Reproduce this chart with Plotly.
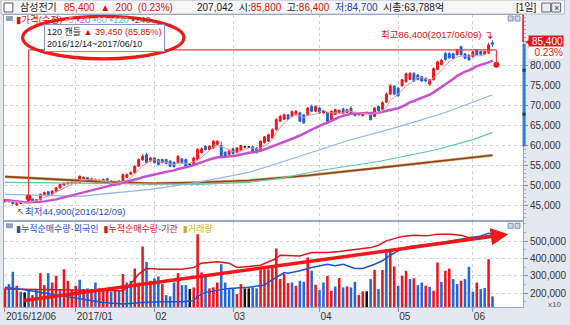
import plotly.graph_objects as go
import pandas as pd

# ---------------- data ----------------
month_days = {
    "2016-12": [6, 7, 8, 9, 12, 13, 14, 15, 16, 19, 20, 21, 22, 23, 26, 27, 28, 29],
    "2017-01": [2, 3, 4, 5, 6, 9, 10, 11, 12, 13, 16, 17, 18, 19, 20, 23, 24, 25, 26, 31],
    "2017-02": [1, 2, 3, 6, 7, 8, 9, 10, 13, 14, 15, 16, 17, 20, 21, 22, 23, 24, 27, 28],
    "2017-03": [2, 3, 6, 7, 8, 9, 10, 13, 14, 15, 16, 17, 20, 21, 22, 23, 24, 27, 28, 29, 30, 31],
    "2017-04": [3, 4, 5, 6, 7, 10, 11, 12, 13, 14, 17, 18, 19, 20, 21, 24, 25, 26, 27, 28],
    "2017-05": [2, 4, 8, 10, 11, 12, 15, 16, 17, 18, 19, 22, 23, 24, 25, 26, 29, 30, 31],
    "2017-06": [1, 2, 5, 7, 8, 9],
}
tick_labels = ["2016/12/06", "2017/01", "02", "03", "04", "05", "06"]

opens = [45900, 46300, 45900, 45100, 45600, 45950, 45950, 46600, 46100, 46400,
         47700, 48400, 47800, 48600, 49400, 50100, 50400, 50600, 50600, 50700,
         51700, 51900, 51300, 51500, 51300, 50900, 51700, 51100, 50700, 50300,
         51100, 52000, 52800, 53200, 54800, 56400, 57700, 56100, 56900, 56500,
         56500, 56500, 56100, 55800, 55700, 56700, 56500, 55300, 55300, 56500,
         58200, 59800, 59000, 59400, 60300, 60000, 58300, 57700, 59200, 58200,
         58800, 59700, 59700, 59700, 59400, 58600, 60700, 61100, 61900, 64000,
         66100, 66600, 67700, 67300, 67800, 68200, 67700, 67700, 69800, 68600,
         69400, 68200, 68300, 66400, 67800, 68200, 69200, 68300, 69400, 68300,
         67700, 67500, 68300, 68200, 67300, 69800, 69100, 70900, 72900, 74900,
         74400, 75000, 76000, 76600, 78100, 77700, 77300, 76900, 75400, 76500,
         79100, 80300, 83100, 83100, 83000, 82800, 84800, 83000, 82700, 82300,
         84000, 83600, 82900, 83200, 85800]
highs = [46600, 46500, 46000, 45700, 45800, 46100, 47000, 46700, 46600, 48000,
         48500, 48600, 48800, 49600, 50400, 50700, 50900, 51000, 51100, 52500,
         52300, 52100, 51900, 51700, 51500, 51700, 51900, 51300, 50900, 51300,
         53000, 53000, 53500, 55100, 56800, 57800, 58200, 57200, 57100, 56700,
         56700, 56700, 56300, 56000, 57600, 56900, 56700, 55500, 57200, 59300,
         59500, 60100, 60100, 61400, 61300, 61000, 58600, 58900, 59400, 59600,
         60200, 59900, 59900, 59900, 59600, 61300, 62400, 63000, 64300, 66900,
         67700, 68000, 67900, 68800, 68900, 68500, 67900, 69700, 70300, 70100,
         69600, 68900, 68500, 68800, 69300, 69100, 69500, 69200, 69900, 68500,
         68300, 68300, 68500, 68400, 69600, 70000, 71100, 73300, 75400, 75100,
         74700, 76700, 78300, 78400, 78400, 78000, 77500, 77100, 76700, 79600,
         81300, 81700, 83500, 83400, 83300, 84300, 85000, 83200, 82900, 83700,
         84200, 83800, 83800, 85800, 86400]
lows = [45700, 45700, 45200, 44900, 45400, 45700, 45900, 45900, 45900, 46300,
        47500, 47500, 47700, 48400, 49200, 49900, 50200, 50300, 50300, 50500,
        51500, 50900, 51100, 50300, 50300, 50700, 50500, 49800, 49800, 50100,
        50900, 51800, 52600, 53000, 54600, 56200, 55500, 55900, 55500, 55000,
        55500, 55300, 54600, 54500, 55500, 55500, 54600, 55000, 55100, 56300,
        58000, 58800, 58800, 59200, 60100, 57000, 57000, 57500, 57800, 58000,
        58600, 59400, 59400, 58000, 58000, 58400, 60500, 60900, 61700, 63800,
        65900, 66400, 66400, 67100, 67600, 65900, 65400, 67500, 68400, 68400,
        68000, 68000, 65900, 66200, 67600, 68000, 67800, 68100, 68000, 67300,
        67500, 67300, 68100, 66300, 67100, 68500, 68900, 70700, 72700, 72600,
        72200, 74800, 75800, 76400, 75900, 76300, 75900, 75900, 75000, 76300,
        78900, 80100, 81300, 81700, 81700, 82600, 82600, 81700, 81300, 82100,
        82600, 82600, 82700, 83000, 84700]
closes = [46400, 45900, 45400, 45500, 45600, 45950, 46700, 46100, 46400, 47800,
          48200, 47700, 48600, 49400, 50200, 50500, 50700, 50800, 50900, 52300,
          52000, 51100, 51700, 50500, 50500, 51500, 50700, 50000, 50000, 51100,
          52700, 52700, 53300, 54800, 56500, 57300, 55700, 56900, 55700, 55200,
          55700, 55500, 54800, 54700, 57300, 55700, 54800, 55300, 56900, 59000,
          59200, 59000, 59800, 61100, 61100, 57300, 57300, 58600, 58000, 59400,
          60000, 59700, 59700, 58200, 58200, 61100, 62200, 62700, 64000, 66500,
          67300, 67700, 66600, 68500, 68600, 66100, 65700, 69400, 68600, 69800,
          68200, 68600, 66100, 68600, 69000, 68800, 68000, 69000, 68200, 67500,
          68100, 68100, 68300, 66500, 69400, 68700, 70800, 72900, 75000, 72900,
          72500, 76500, 78000, 78100, 76200, 76600, 76200, 76200, 76500, 79300,
          81000, 81400, 81600, 82000, 81900, 84100, 82800, 81900, 81500, 83500,
          82800, 82900, 83600, 85200, 85400]
# closes of the 19 sessions before the first visible one (for the 5/20-day averages)
prior_closes = [48500, 48000, 47800, 47500, 47000, 46800, 46500, 46300, 46000, 45800,
                45500, 45300, 45000, 45200, 45400, 45600, 45800, 46000, 46200]

# longer moving averages (session index, price)
ma60_idx = [0, 19, 29, 37, 49, 62, 74, 87, 100, 112, 124]
ma60 = [47750, 47250, 48250, 49000, 50750, 53250, 57000, 61200, 64700, 68300, 72750]
ma120_idx = [0, 19, 37, 49, 62, 70, 80, 95, 110, 119, 124]
ma120 = [50750, 50500, 50250, 50250, 50750, 51750, 53750, 56000, 59000, 61500, 63300]
ma240_idx = [0, 25, 37, 49, 62, 72, 77, 95, 112, 124]
ma240 = [52200, 50900, 50500, 50750, 51250, 52000, 52500, 54400, 56300, 57550]

# volume (x10, thousands) and day direction (r up / b down / k flat)
volume = [227, 252, 323, 242, 208, 204, 213, 188, 219, 315, 246, 315, 261, 300, 223, 338, 271, 219,
          242, 277, 223, 227, 223, 261, 227, 213, 217, 208, 213, 213, 310, 261, 271, 342, 261, 469,
          381, 271, 285, 296, 252, 188, 181, 261, 315, 246, 246, 223, 233, 540, 319, 304, 227, 233,
          261, 367, 261, 223, 227, 194, 252, 227, 227, 233, 227, 334, 338, 338, 348, 458, 281, 310,
          258, 261, 242, 271, 265, 406, 329, 248, 217, 261, 300, 213, 238, 287, 233, 238, 233, 265,
          190, 210, 210, 281, 334, 223, 333, 454, 444, 354, 242, 300, 329, 281, 285, 246, 261, 242,
          236, 213, 377, 265, 329, 342, 281, 252, 271, 281, 352, 208, 261, 223, 229, 396, 181]
vol_dir = ("rbbrbkbrbr" "rbrrbrrrrb" "rbrbrrrbrb" "rbbrrrbrbb" "rbbbrbbkrr" "rbrrrbbbbr"
           "rkkbbrrrrr" "rr" "rbrbbrbrbb" "rrbrbrbbrr" "kbrbrbrrbr" "rbrbbrbrrb" "rrbbrbbbrb" "brb")

# cumulative net buying (same x10 scale, thousands)
inst_idx = [0, 10, 20, 30, 32, 34, 36, 40, 45, 48, 50, 54, 57, 59, 62, 65, 67, 69, 70, 72,
            75, 78, 82, 85, 88, 91, 93, 95, 97, 99, 101, 104, 107, 110, 113, 116, 118, 120, 122, 124]
inst = [223, 219, 219, 213, 252, 310, 342, 338, 338, 348, 373, 381, 373, 348, 354, 361, 381, 400, 419, 419,
        415, 435, 435, 440, 450, 458, 463, 477, 502, 515, 527, 535, 531, 540, 540, 535, 521, 521, 527, 535]
foreign_idx = [0, 5, 10, 15, 20, 25, 30, 35, 40, 45, 48, 49, 51, 54, 57, 62, 66, 68, 71, 72,
               75, 78, 80, 82, 84, 86, 89, 91, 94, 96, 98, 100, 103, 106, 109, 112, 115, 118, 121, 123, 124]
foreign = [233, 219, 200, 181, 162, 146, 137, 146, 150, 150, 156, 181, 204, 217, 227, 233, 246, 277, 319, 315,
           329, 348, 358, 367, 358, 367, 342, 342, 367, 387, 419, 444, 469, 477, 488, 496, 508, 521, 531, 546, 540]

price_ticks = [45000, 50000, 55000, 60000, 65000, 70000, 75000, 80000]
vol_ticks = [200000, 300000, 400000, 500000]

# ---------------- geometry helpers ----------------
W, H = 570, 325
ML, MR, MT, MB = 3, 42, 15, 17
PW = W - ML - MR
PH = H - MT - MB


def PX(px):
    return (px - ML) / PW


def PY(py):
    return (H - MB - py) / PH


FONT = "Liberation Sans, Noto Sans CJK KR, DejaVu Sans, sans-serif"
RED = "#f0141c"
BLUE = "#1d5fd8"

dates = [f"{m}-{d:02d}" for m, ds in month_days.items() for d in ds]
x = list(range(len(dates)))
month_idx = []
seen = set()
for i, d in enumerate(dates):
    if d[:7] not in seen:
        seen.add(d[:7])
        month_idx.append(i)

allc = pd.Series(prior_closes + closes)
ma5 = allc.rolling(5).mean().iloc[len(prior_closes):].tolist()
ma20 = allc.rolling(20).mean().iloc[len(prior_closes):].tolist()

fig = go.Figure()

# moving averages (main panel)
fig.add_trace(go.Scatter(x=ma240_idx, y=ma240, mode="lines", line=dict(color="#dcb48a", width=3)))
fig.add_trace(go.Scatter(x=ma240_idx, y=ma240, mode="lines", line=dict(color="#8b4513", width=1.6)))
fig.add_trace(go.Scatter(x=ma120_idx, y=ma120, mode="lines", line=dict(color="#5cc8a8", width=1.2)))
fig.add_trace(go.Scatter(x=ma60_idx, y=ma60, mode="lines", line=dict(color="#90b4ea", width=1.2)))
fig.add_trace(go.Scatter(x=x, y=ma20, mode="lines", line=dict(color="#c64fd2", width=2.5)))
fig.add_trace(go.Scatter(x=x, y=ma5, mode="lines", line=dict(color="#f29090", width=1)))


def sub(arr, ids):
    return [arr[i] for i in ids]


up = [i for i in x if closes[i] > opens[i]]
dn = [i for i in x if closes[i] < opens[i]]
flat = [i for i in x if closes[i] == opens[i]]
for ids, col in ((up, RED), (dn, BLUE), (flat, "#111111")):
    st = dict(line=dict(color=col, width=1), fillcolor=col)
    fig.add_trace(go.Candlestick(x=ids, open=sub(opens, ids), high=sub(highs, ids),
                                 low=sub(lows, ids), close=sub(closes, ids),
                                 increasing=st, decreasing=st, whiskerwidth=0,
                                 hoverinfo="skip"))

# measurement markers
fig.add_trace(go.Scatter(x=[6, 125], y=[47000, 80250], mode="markers",
                         marker=dict(color=RED, size=6)))

# lower panel
cmap = {"r": RED, "b": "#2466dc", "k": "#111111"}
fig.add_trace(go.Bar(x=x, y=[v * 1000 for v in volume], marker=dict(color=[cmap[c] for c in vol_dir], line=dict(width=0)),
                     xaxis="x2", yaxis="y2"))
fig.add_trace(go.Scatter(x=inst_idx, y=[v * 1000 for v in inst], mode="lines",
                         line=dict(color="#e0141c", width=1.5), xaxis="x2", yaxis="y2"))
fig.add_trace(go.Scatter(x=foreign_idx, y=[v * 1000 for v in foreign], mode="lines",
                         line=dict(color="#2050d0", width=1.5), xaxis="x2", yaxis="y2"))

grid = dict(showgrid=True, gridcolor="#d2d2d2", griddash="dot", gridwidth=1, zeroline=False,
            showline=True, linecolor="#9aa6c2", linewidth=1, mirror=True, fixedrange=True)

fig.update_layout(
    width=W, height=H, showlegend=False,
    margin=dict(l=ML, r=MR, t=MT, b=MB, pad=0),
    paper_bgcolor="#e4e8f0", plot_bgcolor="white",
    font=dict(family=FONT, size=9, color="#222"),
    bargap=0.35,
    xaxis=dict(domain=[0, 1], anchor="y", range=[-0.25, 131.75], tickvals=month_idx,
               showticklabels=False, ticks="", rangeslider=dict(visible=False), **grid),
    yaxis=dict(domain=[87 / PH, 1], side="right", range=[41250, 92750], tickvals=price_ticks,
               ticktext=[f"{v:,}" for v in price_ticks], ticks="outside", ticklen=4,
               tickcolor="#8090b0", minor=dict(dtick=1000, ticklen=2, tickcolor="#a0acc8", ticks="outside", showgrid=False),
               **grid),
    xaxis2=dict(domain=[0, 1], anchor="y2", matches="x", range=[-0.25, 131.75], tickvals=month_idx,
                ticktext=tick_labels, ticks="outside", ticklen=4, tickcolor="#8090b0",
                ticklabelposition="outside right", tickfont=dict(size=10, color="#333"), **grid),
    yaxis2=dict(domain=[0, 85 / PH], side="right", range=[119234, 609600], tickvals=vol_ticks,
                ticktext=[f"{v:,}" for v in vol_ticks], ticks="outside", ticklen=4, tickcolor="#8090b0",
                minor=dict(dtick=50000, ticklen=2, tickcolor="#a0acc8", ticks="outside", showgrid=False),
                **grid),
)
fig.update_yaxes(tickfont=dict(size=10, color="#333"))

shapes = []
# title bar
shapes.append(dict(type="rect", xref="paper", yref="paper", x0=PX(0), x1=PX(W), y0=PY(14), y1=PY(0),
                   fillcolor="#f7f7f7", line=dict(color="#b4bccc", width=1), layer="below"))
shapes.append(dict(type="rect", xref="paper", yref="paper", x0=PX(3), x1=PX(12), y0=PY(12), y1=PY(3),
                   fillcolor="white", line=dict(color="#555", width=1)))
for bx in (547, 557):
    shapes.append(dict(type="rect", xref="paper", yref="paper", x0=PX(bx), x1=PX(bx + 9), y0=PY(12), y1=PY(3),
                       fillcolor="#e8ecf4", line=dict(color="#667", width=1)))
# small panel icons
for yy in (16, 224):
    shapes.append(dict(type="rect", xref="paper", yref="paper", x0=PX(5), x1=PX(12), y0=PY(yy + 5), y1=PY(yy),
                       fillcolor="#8ea0c0", line=dict(width=0)))
    for bx in (513, 520):
        shapes.append(dict(type="rect", xref="paper", yref="paper", x0=PX(bx), x1=PX(bx + 5), y0=PY(yy + 5), y1=PY(yy),
                           fillcolor="#d0d6e4", line=dict(color="#8090b0", width=1)))
# measurement tool lines
mcol = dict(color="#f03c3c", width=1.2)
shapes.append(dict(type="line", xref="x", yref="y", x0=6, x1=6, y0=47000, y1=84000, line=mcol))
shapes.append(dict(type="line", xref="x", yref="y", x0=6, x1=125, y0=84000, y1=84000, line=mcol))
shapes.append(dict(type="line", xref="x", yref="y", x0=125, x1=125, y0=84000, y1=80250, line=mcol))
# hand-drawn ellipse
shapes.append(dict(type="circle", xref="x", yref="y", x0=4.5, x1=45.5, y0=81750, y1=92400,
                   line=dict(color="#f01818", width=3.2)))
# price-axis side bar
shapes.append(dict(type="line", xref="paper", yref="paper", x0=1.0, x1=1.0, y0=PY(42), y1=PY(15),
                   line=dict(color=RED, width=1.5)))
shapes.append(dict(type="line", xref="paper", yref="paper", x0=1.002, x1=1.002, y0=PY(147), y1=PY(44),
                   line=dict(color="#3a78d8", width=3)))
for yy in (69, 113):
    shapes.append(dict(type="line", xref="paper", yref="paper", x0=1.002, x1=1.002, y0=PY(yy + 3), y1=PY(yy),
                       line=dict(color="#18306a", width=3)))
fig.update_layout(shapes=shapes)

ann = []


def txt(px, py, text, color="#222", size=9, xanchor="left", **kw):
    ann.append(dict(x=PX(px), y=PY(py), xref="paper", yref="paper", text=text, showarrow=False,
                    xanchor=xanchor, yanchor="middle", font=dict(color=color, size=size), **kw))


R = "#e01010"
txt(17, 7.5, "삼성전기", size=10)
txt(62, 7.5, f"<span style='color:{R}'>85,400  ▲  200  (0.23%)</span>", size=10)
txt(196, 7.5, f"207,042  시:<span style='color:{R}'>85,800</span>  고:<span style='color:{R}'>86,400</span>  "
              f"<span style='color:#2040c0'>저:84,700</span>  시총:63,788억", size=10)
txt(519, 7.5, "[1일]", size=10)
txt(557.5, 7.5, "×", size=9, color="#333")

# main legend (partly hidden by box)
txt(13, 19.5, f"<span style='color:{R}'>▮가격(수정)</span> <span style='color:#f29090'>▪5</span> "
              f"<span style='color:#c64fd2'>▪20</span> <span style='color:#90b4ea'>▪60</span> "
              f"<span style='color:#5cc8a8'>▪120</span> <span style='color:#8b4513'>▪240</span>", size=9.5)
# info box
ann.append(dict(x=PX(43), y=PY(24), xref="paper", yref="paper", xanchor="left", yanchor="top",
                text=f"120 캔들 <span style='color:{R}'>▲ 39,450 (85.85%)</span><br>2016/12/14~2017/06/10",
                showarrow=False, align="left", bgcolor="white", bordercolor="#8c8cd0", borderwidth=1,
                borderpad=2, font=dict(size=9, color="#222")))
# high / low notes
ann.append(dict(x=121.6, y=87750, xref="x", yref="y", xanchor="right", yanchor="middle", showarrow=False,
                text="최고86,400(2017/06/09)", font=dict(color=R, size=9.5)))
ann.append(dict(x=121.4, y=87600, xref="x", yref="y", xanchor="left", yanchor="middle", showarrow=False,
                text="↴", font=dict(color=R, size=11, family="DejaVu Sans")))
ann.append(dict(x=2.6, y=43500, xref="x", yref="y", xanchor="left", yanchor="middle", showarrow=False,
                text="<span style='font-family:DejaVu Sans'>↖</span>최저44,900(2016/12/09)",
                font=dict(color="#2a50c8", size=9.5)))
# last price label
ann.append(dict(x=PX(533), y=PY(42), xref="paper", yref="paper", xanchor="left", yanchor="middle",
                text="85,400", showarrow=False, bgcolor="#e8141c", width=34, align="right",
                borderpad=0, font=dict(color="white", size=10)))
ann.append(dict(x=PX(533), y=PY(52.5), xref="paper", yref="paper", xanchor="left", yanchor="middle",
                text="0.23%", showarrow=False, bgcolor="white", width=34, align="right",
                borderpad=0, font=dict(color=R, size=10)))
txt(527.5, 42.5, "◀", color=R, size=6, xanchor="left")
txt(568, 305, "x10", color="#555", size=8, xanchor="right")
# lower legend
txt(13, 229, f"<span style='color:#2050d0'>▮누적순매수량-외국인</span>  <span style='color:{R}'>▮누적순매수량-기관</span>  "
             f"<span style='color:#c8b020'>▮거래량</span>", size=9)
# big hand-drawn arrow
ann.append(dict(x=128.0, y=540400, ax=4.45, ay=155600, xref="x2", yref="y2", axref="x2", ayref="y2",
                showarrow=True, arrowhead=2, arrowsize=1, arrowwidth=3.5, arrowcolor="#f01818", text=""))
fig.update_layout(annotations=ann)

fig.write_html("out.html", config={"displayModeBar": False})
